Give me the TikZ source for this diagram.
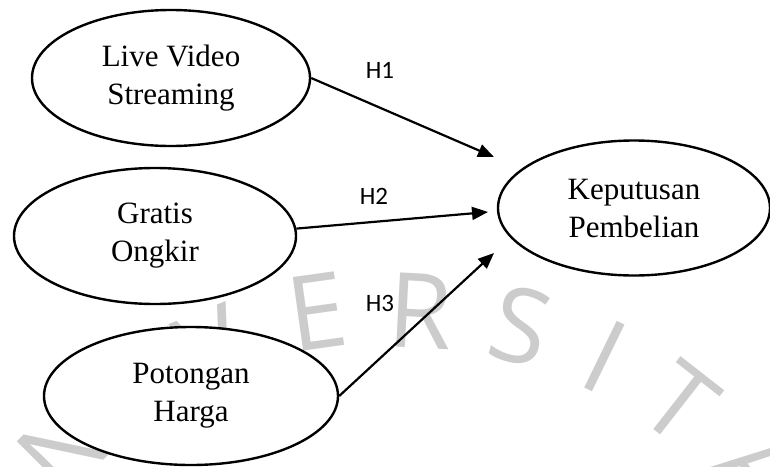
\documentclass[tikz,border=0pt]{standalone}
\usepackage{fontspec}
\setmainfont{Liberation Serif}
\newfontfamily\hfont{Carlito}
\newfontfamily\wmfont{Open Sans}
\usetikzlibrary{shapes.geometric,arrows.meta}

\begin{document}
\begin{tikzpicture}[x=1pt, y=-1pt,
        main/.style = {draw, ellipse, fill=white, line width=2.4pt, align=center, inner sep=0pt,
            font=\fontsize{31}{38}\selectfont},
        hyp/.style = {inner sep=0pt, font=\hfont\fontsize{25}{30}\selectfont},
        wm/.style = {inner sep=0pt, text=black!20, font=\wmfont\fontsize{104}{110}\selectfont},
        link/.style = {line width=2.2pt, -{Triangle[length=16pt, width=13pt]}}]
                \useasboundingbox (0,0) rectangle (770,466);
                % watermark
                \node[wm, rotate=45] (w1) at (64,448) {N};
                \node[wm, rotate=33] (w2) at (135,388) {I};
                \node[wm, rotate=22] (w3) at (211,347) {V};
                \node[wm, rotate=8] (w4) at (317,312) {E};
                \node[wm, rotate=-3] (w5) at (421,311) {R};
                \node[wm, rotate=-15] (w6) at (521,326) {S};
                \node[wm, rotate=-26] (w7) at (605,356) {I};
                \node[wm, rotate=-38] (w8) at (680,403) {T};
                \node[wm, rotate=-51] (w9) at (760,470) {A};
                % model
                \node[main, minimum width=278pt, minimum height=136pt] (LVS) at (171,78) {Live Video\\Streaming};
                \node[main, minimum width=282pt, minimum height=136pt] (GO) at (155,236) {Gratis\\Ongkir};
                \node[main, minimum width=294pt, minimum height=138pt] (PH) at (191,396) {Potongan\\Harga};
                \node[main, minimum width=272pt, minimum height=135pt] (KP) at (634,208) {Keputusan\\Pembelian};
                \coordinate (t1) at (494,157);
                \coordinate (t2) at (488,212);
                \coordinate (t3) at (494,253);
                \draw[link] (LVS.east) -- (t1);
                \draw[link] (GO.3) -- (t2);
                \draw[link] (PH.east) -- (t3);
                \node[hyp] (h1) at (380,70) {H1};
                \node[hyp] (h2) at (374,196) {H2};
                \node[hyp] (h3) at (380,303) {H3};
            \end{tikzpicture}
\end{document}
